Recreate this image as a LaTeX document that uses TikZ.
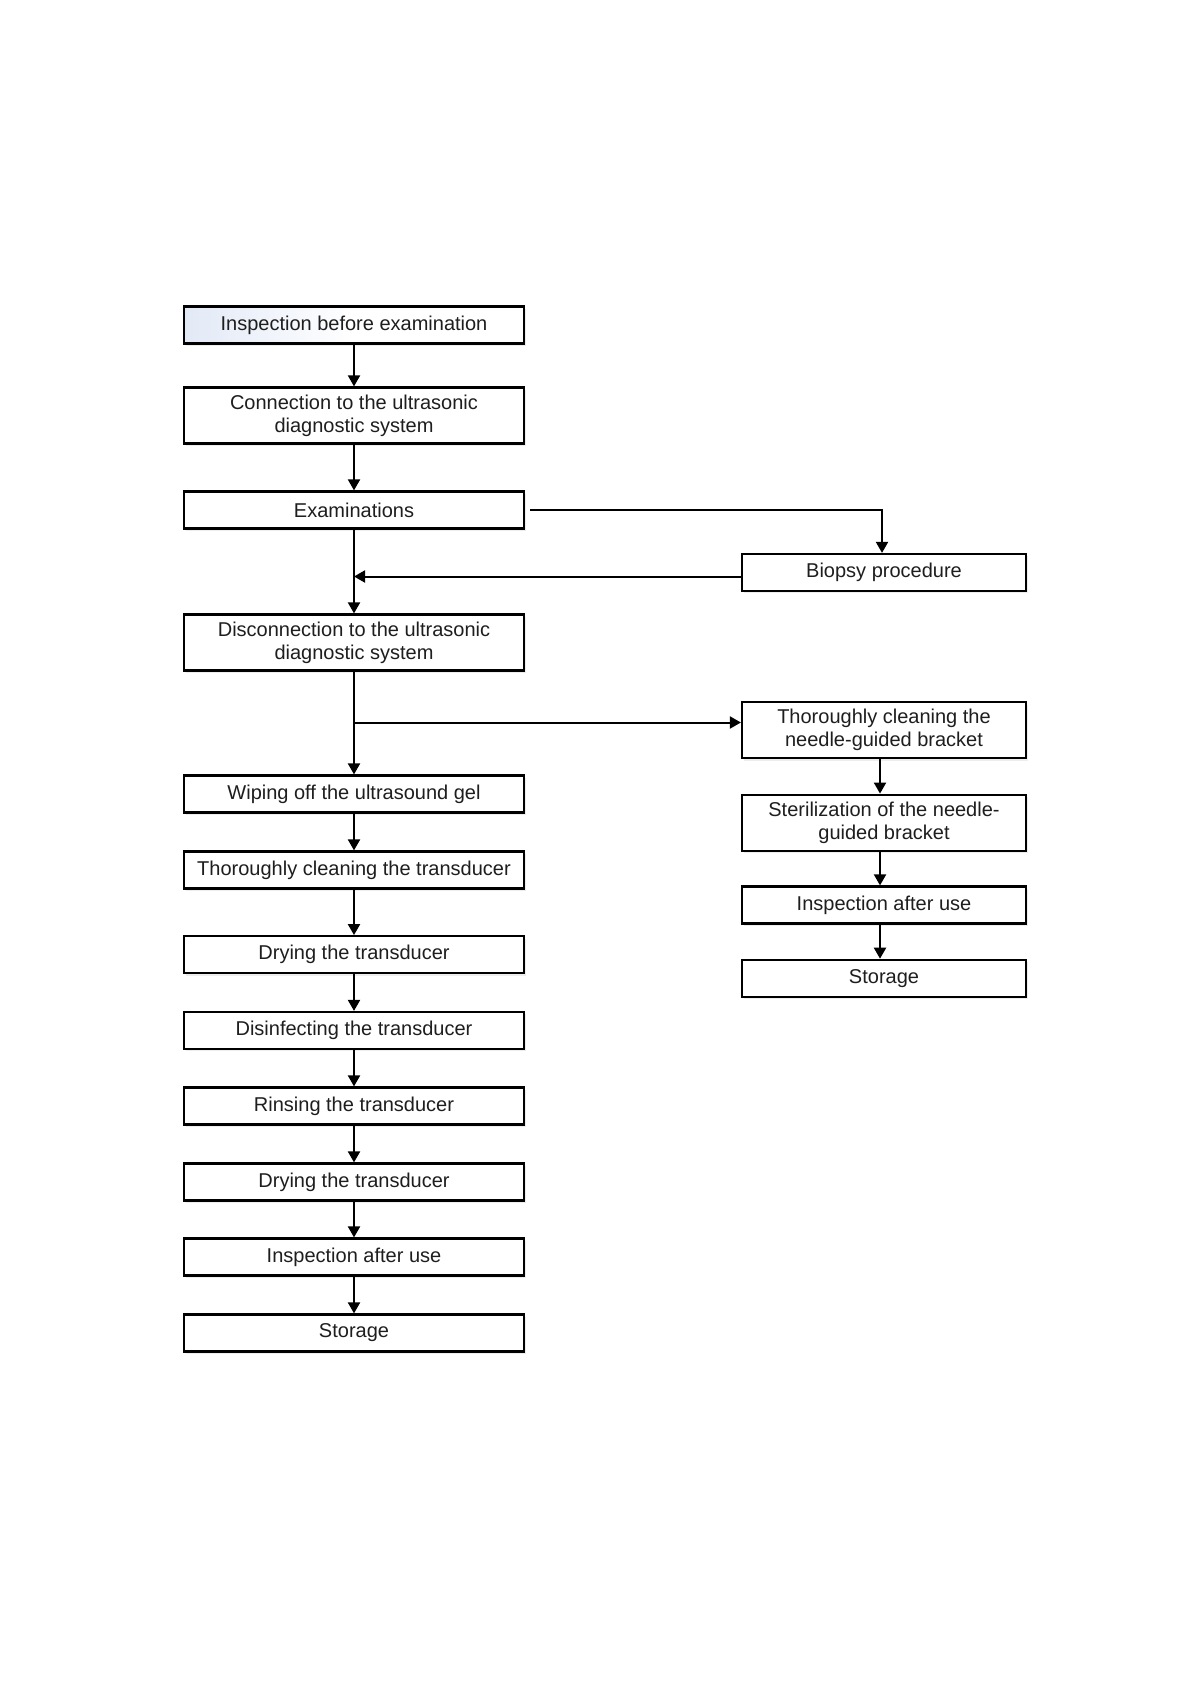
\documentclass[tikz,border=0pt]{standalone}
\usepackage{fontspec}
\setmainfont{Liberation Sans}
\usetikzlibrary{arrows.meta,shadows,calc}
\definecolor{txt}{RGB}{30,30,30}
\definecolor{gradblue}{RGB}{226,233,246}
\tikzset{
  stepbox/.style={draw=black, line width=1.1pt, fill=white, inner sep=0pt,
    minimum width=170pt, minimum height=18.5pt, align=center, text=txt,
    font=\fontsize{10}{11.5}\selectfont,
    drop shadow={shadow xshift=1.2pt, shadow yshift=-1.2pt, fill=black, opacity=0.07}},
  tallbox/.style={stepbox, minimum height=28pt},
  rbox/.style={stepbox, minimum width=142pt},
  rtall/.style={rbox, minimum height=28pt},
  arr/.style={draw=black, line width=1pt, -{Triangle[length=5.5pt,width=6pt]}},
  ln/.style={draw=black, line width=1pt}
}
\begin{document}
\begin{tikzpicture}[x=0.5pt,y=-0.5pt]
\useasboundingbox (0,0) rectangle (1191,1684);
% left column
\node[stepbox, left color=gradblue, right color=white, middle color=white] (n1) at (354,325) {Inspection before examination};
\node[tallbox] (n2) at (354,415.5) {Connection to the ultrasonic\\diagnostic system};
\node[stepbox] (n3) at (354,510) {Examinations};
\node[tallbox] (n4) at (354,642.5) {Disconnection to the ultrasonic\\diagnostic system};
\node[stepbox] (n5) at (354,794) {Wiping off the ultrasound gel};
\node[stepbox] (n6) at (354,870) {Thoroughly cleaning the transducer};
\node[stepbox] (n7) at (354,954.7) {Drying the transducer};
\node[stepbox] (n8) at (354,1030.5) {Disinfecting the transducer};
\node[stepbox] (n9) at (354,1106) {Rinsing the transducer};
\node[stepbox] (n10) at (354,1182) {Drying the transducer};
\node[stepbox] (n11) at (354,1257) {Inspection after use};
\node[stepbox] (n12) at (354,1333) {Storage};
% right column
\node[rbox] (b1) at (884,572.5) {Biopsy procedure};
\node[rtall] (r1) at (884,730.3) {Thoroughly cleaning the\\needle-guided bracket};
\node[rtall] (r2) at (884,822.7) {Sterilization of the needle-\\guided bracket};
\node[rbox] (r3) at (884,905) {Inspection after use};
\node[rbox] (r4) at (884,978.3) {Storage};
% connectors left
\draw[arr] (n1) -- (n2);
\draw[arr] (n2) -- (n3);
\draw[arr] (n3) -- (n4);
\coordinate (br) at (354,722.5);
\draw[arr] (n4) -- (n5);
\draw[arr] (n5) -- (n6);
\draw[arr] (n6) -- (n7);
\draw[arr] (n7) -- (n8);
\draw[arr] (n8) -- (n9);
\draw[arr] (n9) -- (n10);
\draw[arr] (n10) -- (n11);
\draw[arr] (n11) -- (n12);
% branches
\draw[arr] ([xshift=2.5pt]n3.east) -| ([xshift=-1pt]b1.north);
\draw[arr] ([yshift=-2pt]b1.west) -- ([yshift=-2pt]b1.west -| n3.south);
\draw[arr] (br) -- (br -| r1.west);
% right column connectors
\draw[arr] ([xshift=-2pt]r1.south) -- ([xshift=-2pt]r2.north);
\draw[arr] ([xshift=-2pt]r2.south) -- ([xshift=-2pt]r3.north);
\draw[arr] ([xshift=-2pt]r3.south) -- ([xshift=-2pt]r4.north);
\end{tikzpicture}
\end{document}
